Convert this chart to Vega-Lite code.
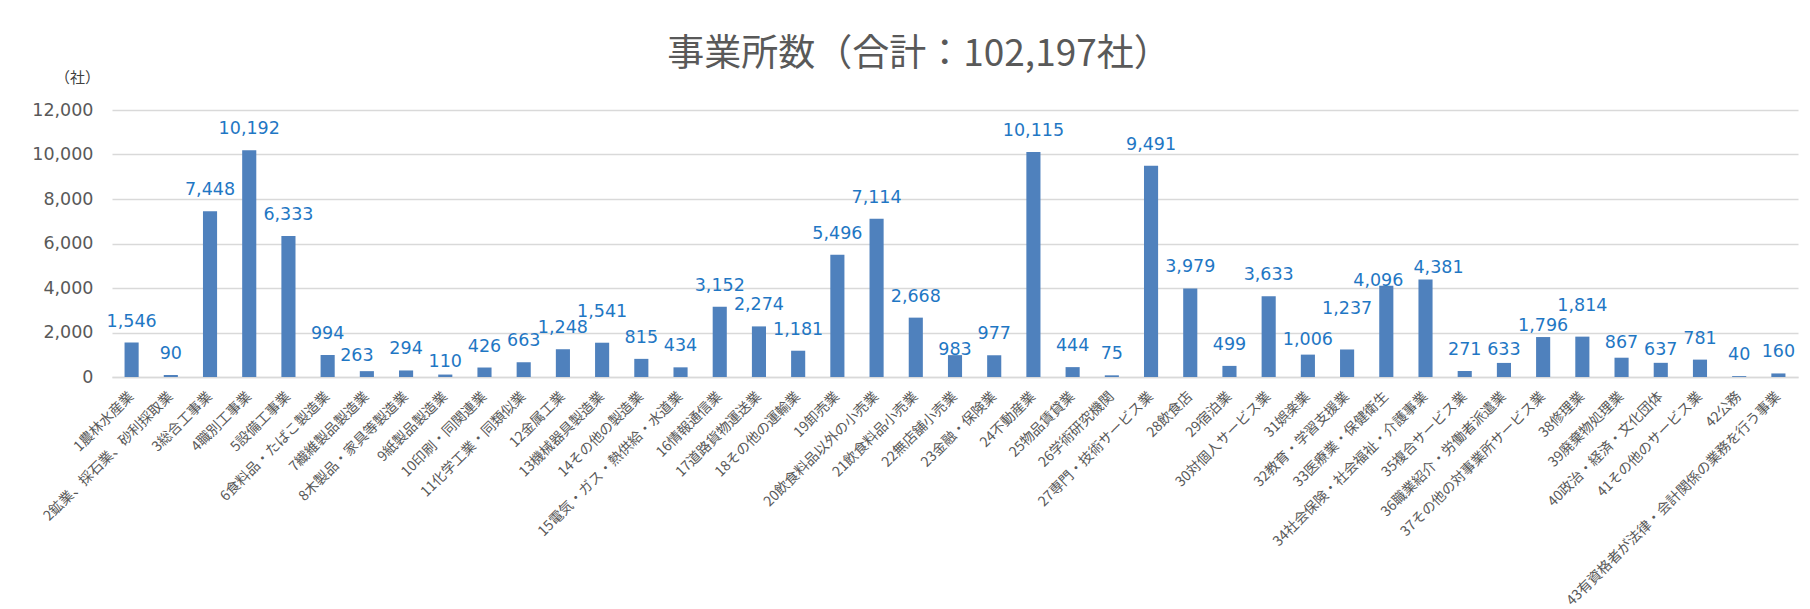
{
  "$schema": "https://vega.github.io/schema/vega-lite/v6.json",
  "width": 1686,
  "height": 267,
  "autosize": {"type": "none"},
  "padding": {"left": 112, "top": 110, "right": 12, "bottom": 232},
  "background": "white",
  "config": {
    "font": "Noto Sans CJK JP",
    "view": {"stroke": null}
  },
  "title": {
    "text": "事業所数（合計：102,197社）",
    "font": "Noto Sans CJK JP",
    "fontSize": 37,
    "fontWeight": "normal",
    "color": "#595959",
    "anchor": "middle",
    "frame": "group",
    "dx": -36,
    "offset": -4
  },
  "data": {
    "values": [
      {"industry": "1農林水産業", "count": 1546},
      {"industry": "2鉱業、採石業、砂利採取業", "count": 90},
      {"industry": "3総合工事業", "count": 7448},
      {"industry": "4職別工事業", "count": 10192},
      {"industry": "5設備工事業", "count": 6333},
      {"industry": "6食料品・たばこ製造業", "count": 994},
      {"industry": "7繊維製品製造業", "count": 263},
      {"industry": "8木製品・家具等製造業", "count": 294},
      {"industry": "9紙製品製造業", "count": 110},
      {"industry": "10印刷・同関連業", "count": 426},
      {"industry": "11化学工業・同類似業", "count": 663},
      {"industry": "12金属工業", "count": 1248},
      {"industry": "13機械器具製造業", "count": 1541},
      {"industry": "14その他の製造業", "count": 815},
      {"industry": "15電気・ガス・熱供給・水道業", "count": 434},
      {"industry": "16情報通信業", "count": 3152},
      {"industry": "17道路貨物運送業", "count": 2274},
      {"industry": "18その他の運輸業", "count": 1181},
      {"industry": "19卸売業", "count": 5496},
      {"industry": "20飲食料品以外の小売業", "count": 7114},
      {"industry": "21飲食料品小売業", "count": 2668},
      {"industry": "22無店舗小売業", "count": 983},
      {"industry": "23金融・保険業", "count": 977},
      {"industry": "24不動産業", "count": 10115},
      {"industry": "25物品賃貸業", "count": 444},
      {"industry": "26学術研究機関", "count": 75},
      {"industry": "27専門・技術サービス業", "count": 9491},
      {"industry": "28飲食店", "count": 3979},
      {"industry": "29宿泊業", "count": 499},
      {"industry": "30対個人サービス業", "count": 3633},
      {"industry": "31娯楽業", "count": 1006},
      {"industry": "32教育・学習支援業", "count": 1237},
      {"industry": "33医療業・保健衛生", "count": 4096},
      {"industry": "34社会保険・社会福祉・介護事業", "count": 4381},
      {"industry": "35複合サービス業", "count": 271},
      {"industry": "36職業紹介・労働者派遣業", "count": 633},
      {"industry": "37その他の対事業所サービス業", "count": 1796},
      {"industry": "38修理業", "count": 1814},
      {"industry": "39廃棄物処理業", "count": 867},
      {"industry": "40政治・経済・文化団体", "count": 637},
      {"industry": "41その他のサービス業", "count": 781},
      {"industry": "42公務", "count": 40},
      {"industry": "43有資格者が法律・会計関係の業務を行う事業", "count": 160}
    ]
  },
  "encoding": {
    "x": {
      "field": "industry",
      "type": "nominal",
      "sort": null,
      "scale": {"paddingInner": 0.64, "paddingOuter": 0.32},
      "axis": {
        "title": null,
        "labelAngle": -45,
        "labelAlign": "right",
        "labelBaseline": "middle",
        "labelPadding": 17,
        "labelFont": "Noto Sans CJK JP",
        "labelFontSize": 14,
        "labelColor": "#595959",
        "labelLimit": 500,
        "labelOverlap": false,
        "ticks": false,
        "domain": true,
        "domainColor": "#d9d9d9",
        "domainWidth": 1.5
      }
    },
    "y": {
      "field": "count",
      "type": "quantitative",
      "scale": {"domain": [0, 12000], "nice": false},
      "axis": {
        "values": [0, 2000, 4000, 6000, 8000, 10000, 12000],
        "format": ",d",
        "labelFont": "DejaVu Sans",
        "labelFontSize": 17.5,
        "labelColor": "#595959",
        "labelPadding": 19,
        "ticks": false,
        "domain": false,
        "grid": true,
        "gridColor": "#d9d9d9",
        "gridWidth": 1.5,
        "title": "（社）",
        "titleAngle": 0,
        "titleAlign": "center",
        "titleBaseline": "middle",
        "titleX": -35,
        "titleY": -33,
        "titleFont": "Noto Sans CJK JP",
        "titleFontSize": 15,
        "titleFontWeight": "normal",
        "titleColor": "#404040"
      }
    }
  },
  "layer": [
    {"mark": {"type": "bar", "color": "#4f81bd"}},
    {
      "transform": [{"filter": {"not": {"field": "count", "oneOf": [263, 1006, 867, 110, 633, 637, 4381, 1796, 4096, 983, 1541, 1814, 1237]}}}],
      "mark": {"type": "text", "baseline": "alphabetic", "dy": -16, "font": "DejaVu Sans", "fontSize": 17.5, "color": "#1f77c4"},
      "encoding": {"text": {"field": "count", "type": "quantitative", "format": ",d"}}
    },
    {
      "transform": [{"filter": {"field": "count", "oneOf": [1006, 867]}}],
      "mark": {"type": "text", "baseline": "alphabetic", "dy": -10, "font": "DejaVu Sans", "fontSize": 17.5, "color": "#1f77c4"},
      "encoding": {"text": {"field": "count", "type": "quantitative", "format": ",d"}}
    },
    {
      "transform": [{"filter": {"field": "count", "oneOf": [263]}}],
      "mark": {"type": "text", "baseline": "alphabetic", "dy": -10, "dx": -10, "font": "DejaVu Sans", "fontSize": 17.5, "color": "#1f77c4"},
      "encoding": {"text": {"field": "count", "type": "quantitative", "format": ",d"}}
    },
    {
      "transform": [{"filter": {"field": "count", "oneOf": [110, 633, 637]}}],
      "mark": {"type": "text", "baseline": "alphabetic", "dy": -7.5, "font": "DejaVu Sans", "fontSize": 17.5, "color": "#1f77c4"},
      "encoding": {"text": {"field": "count", "type": "quantitative", "format": ",d"}}
    },
    {
      "transform": [{"filter": {"field": "count", "oneOf": [4381]}}],
      "mark": {"type": "text", "baseline": "alphabetic", "dy": -7, "dx": 13, "font": "DejaVu Sans", "fontSize": 17.5, "color": "#1f77c4"},
      "encoding": {"text": {"field": "count", "type": "quantitative", "format": ",d"}}
    },
    {
      "transform": [{"filter": {"field": "count", "oneOf": [1796]}}],
      "mark": {"type": "text", "baseline": "alphabetic", "dy": -6, "font": "DejaVu Sans", "fontSize": 17.5, "color": "#1f77c4"},
      "encoding": {"text": {"field": "count", "type": "quantitative", "format": ",d"}}
    },
    {
      "transform": [{"filter": {"field": "count", "oneOf": [4096]}}],
      "mark": {"type": "text", "baseline": "alphabetic", "dy": 0, "dx": -8, "font": "DejaVu Sans", "fontSize": 17.5, "color": "#1f77c4"},
      "encoding": {"text": {"field": "count", "type": "quantitative", "format": ",d"}}
    },
    {
      "transform": [{"filter": {"field": "count", "oneOf": [983]}}],
      "mark": {"type": "text", "baseline": "alphabetic", "dy": 0, "font": "DejaVu Sans", "fontSize": 17.5, "color": "#1f77c4"},
      "encoding": {"text": {"field": "count", "type": "quantitative", "format": ",d"}}
    },
    {
      "transform": [{"filter": {"field": "count", "oneOf": [1541, 1814]}}],
      "mark": {"type": "text", "baseline": "alphabetic", "dy": -26, "font": "DejaVu Sans", "fontSize": 17.5, "color": "#1f77c4"},
      "encoding": {"text": {"field": "count", "type": "quantitative", "format": ",d"}}
    },
    {
      "transform": [{"filter": {"field": "count", "oneOf": [1237]}}],
      "mark": {"type": "text", "baseline": "alphabetic", "dy": -35, "font": "DejaVu Sans", "fontSize": 17.5, "color": "#1f77c4"},
      "encoding": {"text": {"field": "count", "type": "quantitative", "format": ",d"}}
    }
  ]
}
